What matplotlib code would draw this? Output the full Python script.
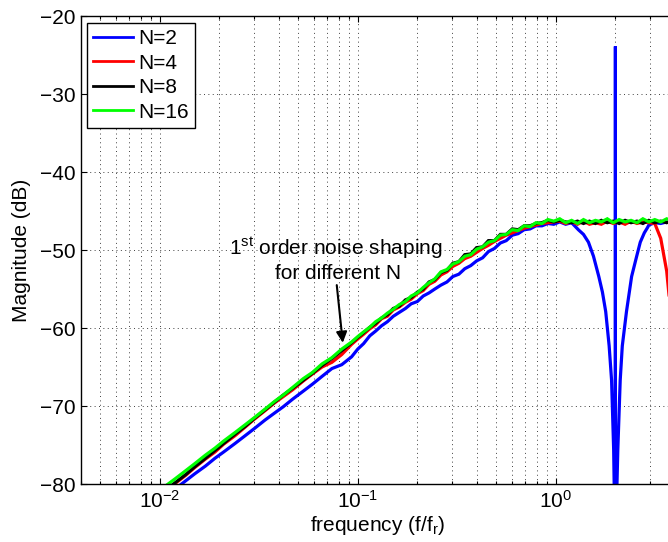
import numpy as np
import matplotlib
matplotlib.use("Agg")
import matplotlib.pyplot as plt
from matplotlib.ticker import NullFormatter, LogLocator

# ---------------- data ----------------
series_labels = ["N=2", "N=4", "N=8", "N=16"]
series_colors = ["#0000ff", "#ff0000", "#000000", "#00ff00"]

freq_lo = [0.009, 0.0105, 0.012, 0.0135, 0.015, 0.017, 0.019, 0.021, 0.024, 0.027,
           0.030, 0.034, 0.038, 0.042, 0.047, 0.053, 0.059, 0.066, 0.074, 0.083, 0.093,
           0.100, 0.107, 0.115, 0.123, 0.132, 0.141, 0.151, 0.162, 0.174, 0.186,
           0.200, 0.214, 0.229, 0.245, 0.263, 0.282, 0.302, 0.324, 0.347, 0.372,
           0.398, 0.427, 0.457, 0.490, 0.525, 0.562, 0.603, 0.646, 0.692, 0.741,
           0.794, 0.851, 0.912, 0.977]

freq_hi = [1.047, 1.122, 1.202, 1.288, 1.380, 1.479, 1.585, 1.698, 1.820, 1.950,
           2.089, 2.239, 2.399, 2.570, 2.754, 2.951, 3.162, 3.388, 3.631, 3.890,
           4.169, 4.467, 4.786]

# N=2 (blue)
n2_lo = [-83.0, -81.7, -80.6, -79.6, -78.7, -77.7, -76.7, -75.9, -74.8, -73.8,
         -72.9, -71.8, -70.9, -70.1, -69.1, -68.1, -67.2, -66.2, -65.2, -64.7, -63.7,
         -62.7, -62.0, -61.0, -60.4, -59.7, -59.2, -58.5, -58.0, -57.5, -56.9,
         -56.6, -55.9, -55.5, -55.0, -54.5, -54.1, -53.4, -53.1, -52.4, -52.0,
         -51.4, -51.0, -50.2, -49.8, -49.1, -48.8, -48.1, -47.9, -47.4, -47.3,
         -46.9, -46.9, -46.6, -46.7]
n2_hi_freq = [1.047, 1.122, 1.202, 1.245, 1.30, 1.38, 1.462, 1.55, 1.649, 1.72,
              1.787, 1.860, 1.913, 1.960, 1.985, 2.0, 2.0, 2.0, 2.015, 2.057,
              2.115, 2.167, 2.275, 2.415, 2.55, 2.671, 2.80, 2.894, 2.951, 3.162,
              3.388, 3.631, 3.890, 4.169, 4.467, 4.786]
n2_hi_db = [-46.4, -46.7, -46.5, -46.9, -47.4, -48.0, -49.0, -50.8, -53.4, -55.4,
            -57.9, -62.3, -66.7, -75.6, -85.0, -95.0, -23.9, -95.0, -85.0, -75.6,
            -66.7, -62.3, -57.9, -53.4, -51.0, -49.0, -47.8, -47.2, -46.8, -46.5,
            -46.6, -46.4, -46.6, -46.5, -46.7, -46.4]

# N=4 (red)
n4_lo = [-82.3, -81.0, -79.9, -78.9, -77.9, -76.8, -75.9, -74.9, -73.8, -72.7,
         -71.7, -70.6, -69.6, -68.8, -67.9, -66.8, -65.9, -65.0, -64.4, -63.4, -62.1,
         -61.4, -60.8, -60.1, -59.6, -58.8, -58.5, -57.7, -57.3, -56.7, -56.3,
         -55.6, -55.2, -54.4, -54.0, -53.2, -52.8, -52.1, -51.7, -51.1, -50.8,
         -50.3, -49.8, -49.4, -48.9, -48.5, -48.1, -47.8, -47.5, -47.2, -47.0,
         -46.8, -46.6, -46.5, -46.4]
n4_hi = [-46.3, -46.6, -46.4, -46.7, -46.3, -46.7, -46.5, -46.7, -46.3, -46.6,
         -46.4, -46.7, -46.3, -46.6, -46.4, -46.5, -46.6, -48.5, -52.7, -60.5,
         -62.0, -52.0, -48.5]

# N=8 (black)
n8_lo = [-82.2, -80.9, -79.8, -78.8, -77.8, -76.7, -75.7, -74.8, -73.6, -72.6,
         -71.6, -70.5, -69.5, -68.6, -67.7, -66.7, -65.8, -64.8, -63.9, -62.9, -61.9,
         -61.2, -60.6, -59.9, -59.4, -58.7, -58.3, -57.5, -57.2, -56.4, -56.1,
         -55.4, -55.0, -54.1, -53.8, -52.9, -52.6, -51.7, -51.5, -50.6, -50.5,
         -49.7, -49.6, -48.8, -48.8, -48.0, -48.0, -47.3, -47.4, -46.9, -46.9,
         -46.6, -46.5, -46.2, -46.4]
n8_hi = [-46.2, -46.4, -46.5, -46.3, -46.6, -46.3, -46.6, -46.2, -46.5, -46.3,
         -46.6, -46.2, -46.5, -46.3, -46.6, -46.2, -46.5, -46.3, -46.5, -46.2,
         -46.5, -46.3, -46.4]

# N=16 (green)
n16_lo = [-81.7, -80.4, -79.3, -78.3, -77.4, -76.3, -75.4, -74.5, -73.4, -72.4,
          -71.5, -70.4, -69.4, -68.6, -67.6, -66.5, -65.7, -64.6, -63.8, -62.7, -61.8,
          -61.1, -60.5, -59.9, -59.2, -58.7, -58.1, -57.6, -57.0, -56.6, -55.9,
          -55.5, -54.8, -54.2, -53.7, -52.8, -52.5, -51.8, -51.5, -50.8, -50.6,
          -49.9, -49.6, -49.0, -48.8, -48.1, -48.0, -47.4, -47.5, -46.9, -47.0,
          -46.5, -46.6, -46.1, -46.3]
n16_hi = [-46.0, -46.5, -46.2, -46.6, -46.1, -46.5, -46.2, -46.4, -46.0, -46.5,
          -46.1, -46.4, -46.2, -46.5, -46.0, -46.4, -46.1, -46.4, -46.0, -46.3,
          -46.1, -46.4, -46.2]

xtick_vals = [1e-2, 1e-1, 1e0]
xtick_labels = [r"$10^{-2}$", r"$10^{-1}$", r"$10^{0}$"]
ytick_vals = [-80, -70, -60, -50, -40, -30, -20]

# ---------------- style ----------------
plt.rcParams["font.family"] = ["Liberation Sans", "DejaVu Sans"]
plt.rcParams["mathtext.fontset"] = "custom"
plt.rcParams["mathtext.rm"] = "Liberation Sans"
plt.rcParams["mathtext.it"] = "Liberation Sans:italic"
plt.rcParams["mathtext.default"] = "regular"
plt.rcParams["font.size"] = 15

fig = plt.figure(figsize=(6.68, 5.42), dpi=100)
W, H = 668.0, 542.0
ax = fig.add_axes([81 / W, 58 / H, 594 / W, 468 / H])

all_series = [
    (np.concatenate([freq_lo, n2_hi_freq]), np.concatenate([n2_lo, n2_hi_db])),
    (np.concatenate([freq_lo, freq_hi]), np.concatenate([n4_lo, n4_hi])),
    (np.concatenate([freq_lo, freq_hi]), np.concatenate([n8_lo, n8_hi])),
    (np.concatenate([freq_lo, freq_hi]), np.concatenate([n16_lo, n16_hi])),
]
handles = []
for (fx, dy), lab, col in zip(all_series, series_labels, series_colors):
    h, = ax.plot(fx, dy, color=col, lw=2.3, label=lab, solid_joinstyle="miter")
    handles.append(h)

ax.set_xscale("log")
ax.set_xlim(0.004, 4)
ax.set_ylim(-80, -20)
ax.set_xticks(xtick_vals)
ax.set_xticklabels(xtick_labels)
ax.xaxis.set_minor_locator(LogLocator(base=10, subs=np.arange(2, 10)))
ax.xaxis.set_minor_formatter(NullFormatter())
ax.set_yticks(ytick_vals)
ax.set_yticklabels([str(v).replace("-", "\u2212") for v in ytick_vals])

grid_kw = dict(color="0.25", linestyle=(0, (1, 3.5)), linewidth=0.7)
ax.grid(True, which="major", **grid_kw)
ax.xaxis.grid(True, which="minor", **grid_kw)
ax.set_axisbelow(True)

ax.tick_params(which="both", direction="in", top=True, right=True, width=0.8)
ax.tick_params(which="major", length=4.5, pad=4)
ax.tick_params(which="minor", length=2.5)
for sp in ax.spines.values():
    sp.set_linewidth(1.0)

ax.set_xlabel(r"frequency (f/f$_{r}$)", labelpad=2)
ax.set_ylabel("Magnitude (dB)", labelpad=6)

leg = ax.legend(handles=handles, loc="upper left", bbox_to_anchor=(6 / 594, 461 / 468),
                borderaxespad=0, fancybox=False, edgecolor="black", framealpha=1,
                handlelength=1.9, handletextpad=0.25, labelspacing=0.26,
                borderpad=0.3, fontsize=15)
leg.get_frame().set_linewidth(1.0)
for lh in leg.get_lines():
    lh.set_linewidth(2.0)

ax.annotate("", xy=(0.084, -61.9), xytext=(0.0783, -54.5),
            arrowprops=dict(arrowstyle="-|>", color="k", lw=1.5,
                            mutation_scale=16, shrinkA=0, shrinkB=0))
ax.text(0.0774, -50.6, r"1$^{st}$ order noise shaping", ha="center", va="baseline")
ax.text(0.0792, -53.7, "for different N", ha="center", va="baseline")

fig.savefig("out.png", dpi=100)
